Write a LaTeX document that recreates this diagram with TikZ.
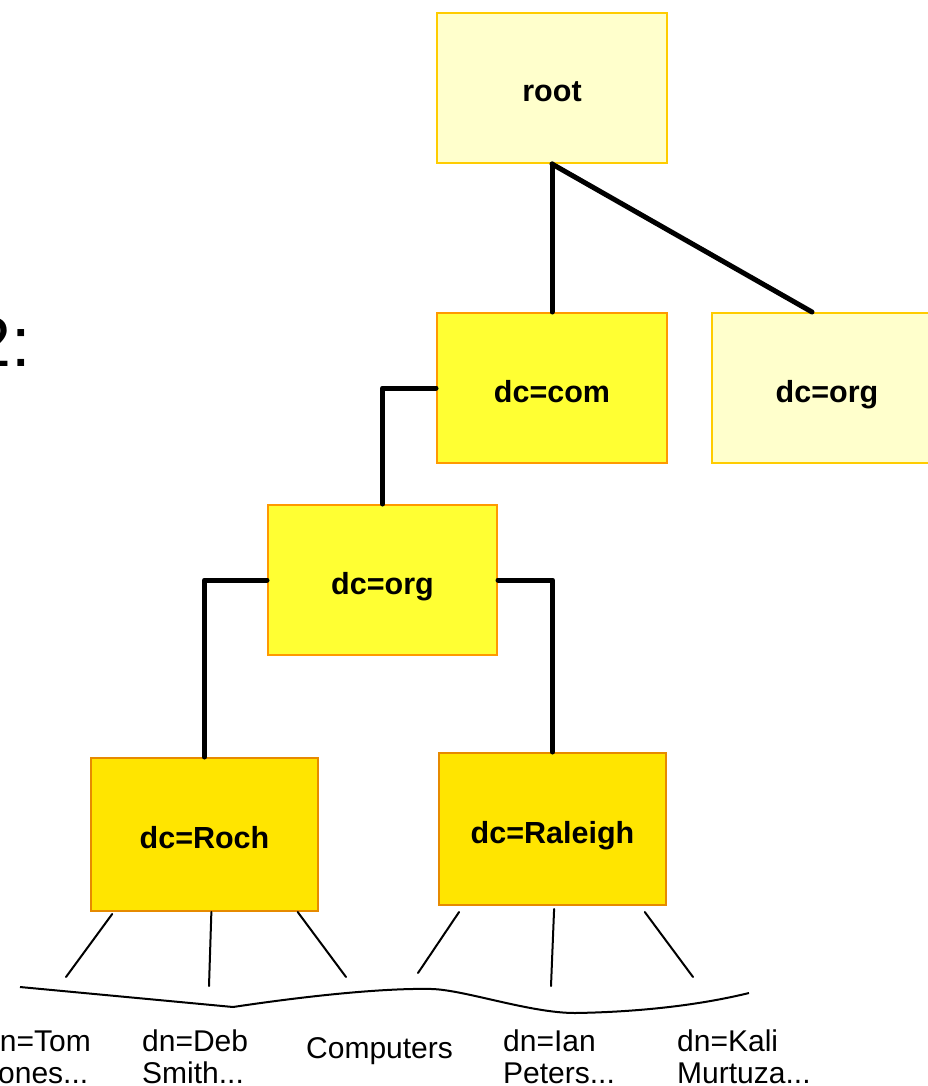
\documentclass[tikz,border=0pt]{standalone}
\usepackage{fontspec}
\setmainfont{Liberation Sans}
\usetikzlibrary{calc}
\definecolor{lightfill}{HTML}{FFFFCC}
\definecolor{goldline}{HTML}{FFCC00}
\definecolor{brightfill}{HTML}{FFFF33}
\definecolor{orangeline}{HTML}{FF9900}
\definecolor{goldfill}{HTML}{FFE500}
\definecolor{darkorange}{HTML}{E68A00}
\begin{document}
\begin{tikzpicture}[x=1pt,y=-1pt,
  box/.style={rectangle, inner sep=0pt, line width=2pt, text height=31pt, text depth=3pt,
    font=\fontsize{30.5}{32}\selectfont\bfseries},
  palebox/.style={box, draw=goldline, fill=lightfill},
  brightbox/.style={box, draw=orangeline, fill=brightfill},
  deepbox/.style={box, draw=darkorange, fill=goldfill},
  trunk/.style={line width=5pt, line cap=round, line join=round},
  twig/.style={line width=2pt, line cap=round},
  leaf/.style={anchor=base west, inner sep=0pt, align=left, font=\fontsize{30}{32}\selectfont}]
\useasboundingbox (0,0) rectangle (927,1086);

% boxes
\node[palebox, minimum width=230pt, minimum height=150pt] (root) at (552,88) {root};
\node[brightbox, minimum width=230pt, minimum height=150pt] (com) at (552,388) {dc=com};
\node[palebox, minimum width=230pt, minimum height=150pt] (org2) at (827,388) {dc=org};
\node[brightbox, minimum width=229pt, minimum height=150pt] (org) at (382.5,580) {dc=org};
\node[deepbox, minimum width=227pt, minimum height=153pt] (roch) at (204.5,834.5) {dc=Roch};
\node[deepbox, minimum width=227pt, minimum height=152pt] (ral) at (552.5,829) {dc=Raleigh};

% title fragment
\node[anchor=base east, inner sep=0pt, font=\fontsize{70}{74}\selectfont] (title) at (31,366) {2:};

% thick connectors
\draw[trunk] (root.south) -- (com.north);
\draw[trunk] (root.south) -- ($(org2.north west)+(101,0)$);
\draw[trunk] (com.west) -| (org.north);
\draw[trunk] (org.west) -| (roch.north);
\draw[trunk] (org.east) -| (ral.north);

% thin branches
\coordinate (e1) at (66,977);
\coordinate (e2) at (209,986);
\coordinate (e3) at (346,977);
\coordinate (e4) at (418,973);
\coordinate (e5) at (551,986);
\coordinate (e6) at (693,977);
\draw[twig] ($(roch.south west)!0.097!(roch.south east)+(0,2)$) -- (e1);
\draw[twig] ($(roch.south west)!0.53!(roch.south east)$) -- (e2);
\draw[twig] ($(roch.south west)!0.907!(roch.south east)$) -- (e3);
\draw[twig] ($(ral.south west)!0.092!(ral.south east)+(0,6)$) -- (e4);
\draw[twig] ($(ral.south west)!0.507!(ral.south east)+(0,3)$) -- (e5);
\draw[twig] ($(ral.south west)!0.903!(ral.south east)+(0,6)$) -- (e6);

% brace
\draw[line width=2pt, line join=round] (20,987) -- (233,1007)
  .. controls (320,994) and (390,988) .. (432,989)
  .. controls (465,990) and (530,1013) .. (575,1013)
  .. controls (640,1012) and (700,1005) .. (749,993);

% leaf labels
\node[leaf] (tom) at (-17,1083) {dn=Tom\\Jones...};
\node[leaf] (deb) at (142,1083) {dn=Deb\\Smith...};
\node[leaf] (comp) at (306,1058) {Computers};
\node[leaf] (ian) at (503,1083) {dn=Ian\\Peters...};
\node[leaf] (kali) at (677,1083) {dn=Kali\\Murtuza...};
\end{tikzpicture}
\end{document}
